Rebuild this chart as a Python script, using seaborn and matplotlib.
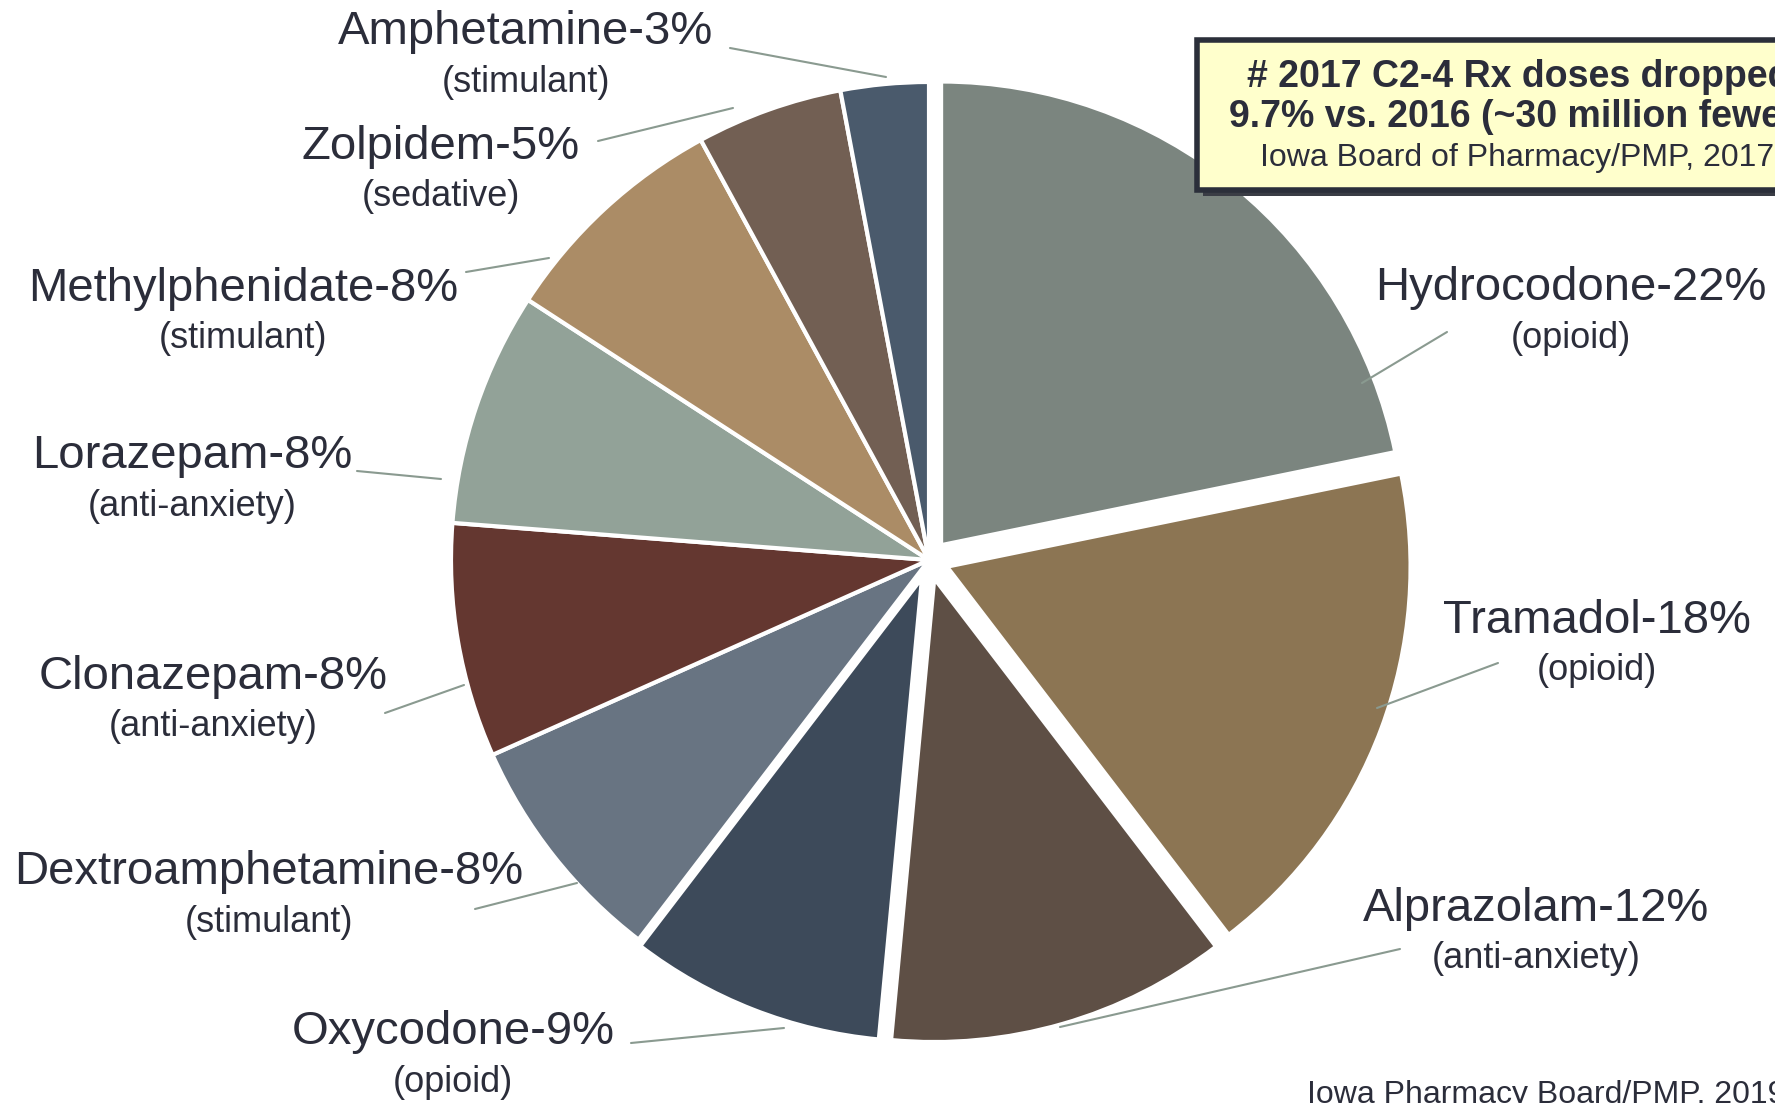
import matplotlib
matplotlib.use("Agg")
import matplotlib.pyplot as plt
import seaborn as sns
from matplotlib.patches import Rectangle

# --- DATA ---
drugs   = ["Hydrocodone", "Tramadol", "Alprazolam", "Oxycodone", "Dextroamphetamine",
           "Clonazepam", "Lorazepam", "Methylphenidate", "Zolpidem", "Amphetamine"]
shares  = [22, 18, 12, 9, 8, 8, 8, 8, 5, 3]
classes = ["opioid", "opioid", "anti-anxiety", "opioid", "stimulant",
           "anti-anxiety", "anti-anxiety", "stimulant", "sedative", "stimulant"]
colors  = ["#7B857F", "#8C7553", "#5E4F45", "#3D4A5A", "#687482",
           "#643730", "#92A298", "#AB8C66", "#725F53", "#4A5A6C"]
explode = [0.04, 0.04, 0.04, 0.04, 0, 0, 0, 0, 0, 0]

box_lines = ["# 2017 C2-4 Rx doses dropped",
             "9.7% vs. 2016 (~30 million fewer)",
             "Iowa Board of Pharmacy/PMP, 2017"]
source = "Iowa Pharmacy Board/PMP, 2019"

# --- LAYOUT (image pixel coords, y from top) ---
W, H = 1775, 1103
CENTER = (929, 560)
RADIUS = 478
EXPLODED_SCALE = 0.97   # pulled-out slices are drawn a bit smaller
# label centre (x, y of the name line), leader start, leader end
label_pos = [(1571, 288), (1597, 621), (1536, 909), (453, 1032), (269, 872),
             (213, 677), (192, 456), (243, 289), (441, 147), (526, 32)]
lead_from = [(1447, 332), (1498, 663), (1400, 949), (631, 1043), (475, 909),
             (385, 713), (357, 471), (466, 272), (598, 141), (730, 48)]
lead_to   = [(1362, 383), (1377, 708), (1060, 1027), (784, 1028), (577, 883),
             (464, 685), (441, 479), (549, 258), (733, 108), (886, 77)]

TEXT_C = "#2B2D3A"
LEAD_C = "#8A9A90"

def fy(y):
    return H - y

sns.set_theme(style="white")
plt.rcParams['font.family'] = ['Liberation Sans', 'DejaVu Sans']

fig = plt.figure(figsize=(W / 100, H / 100), dpi=100)
ax = fig.add_axes([0, 0, 1, 1])

# matplotlib's explode is in data units, so scale by the radius
pal = sns.color_palette(colors)
wedges, _ = ax.pie(shares, colors=pal, explode=[e * RADIUS for e in explode],
                   startangle=90, counterclock=False,
                   center=(CENTER[0], fy(CENTER[1])), radius=RADIUS, frame=True,
                   wedgeprops=dict(edgecolor="white", linewidth=3))
for w, e in zip(wedges, explode):
    if e:
        w.set_radius(RADIUS * EXPLODED_SCALE)

ax.set_xlim(0, W)
ax.set_ylim(0, H)
ax.set_aspect("equal")
ax.axis("off")

for i, name in enumerate(drugs):
    x, y = label_pos[i]
    ax.text(x, fy(y), f"{name}-{shares[i]}%", ha="center", va="center",
            fontsize=34, color=TEXT_C)
    ax.text(x, fy(y + 50), f"({classes[i]})", ha="center", va="center",
            fontsize=26, color=TEXT_C)
    (x0, y0), (x1, y1) = lead_from[i], lead_to[i]
    ax.plot([x0, x1], [fy(y0), fy(y1)], color=LEAD_C, lw=1.5)

# info box (runs off the right edge like the original slide)
ax.add_patch(Rectangle((1203, fy(196)), 700, 150, facecolor="#3A3D45",
                       edgecolor="none", zorder=4))
ax.add_patch(Rectangle((1197, fy(190)), 700, 150, facecolor="#FFFFCC",
                       edgecolor="#2B2F3A", lw=4, zorder=5))
ax.text(1519, fy(77), box_lines[0], ha="center", va="center", fontsize=27,
        fontweight="bold", color=TEXT_C, zorder=6)
ax.text(1519, fy(117), box_lines[1], ha="center", va="center", fontsize=27,
        fontweight="bold", color=TEXT_C, zorder=6)
ax.text(1517, fy(158), box_lines[2], ha="center", va="center", fontsize=23,
        color=TEXT_C, zorder=6)

ax.text(1307, fy(1080), source, ha="left", va="top", fontsize=23, color=TEXT_C)

fig.savefig("out.png", dpi=100)
